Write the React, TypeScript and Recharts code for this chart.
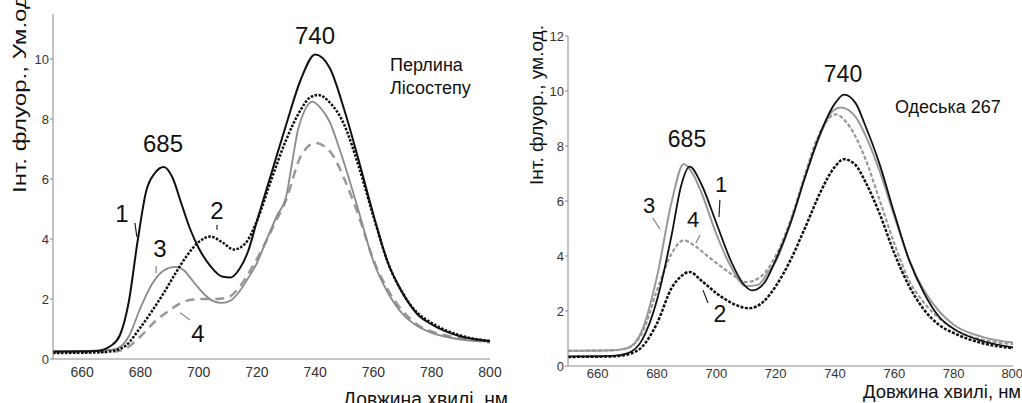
import React from 'react';
import { LineChart, Line, XAxis, YAxis, ReferenceLine } from 'recharts';

// wavelength (nm) / intensity pairs
const left1 = [[650, 0.25], [665, 0.27], [670, 0.45], [673, 0.8], [676, 1.9], [679, 3.9], [682, 5.6], [685, 6.2], [688, 6.4], [691, 6.05], [694, 5.2], [697, 4.35], [700, 3.7], [704, 3.1], [708, 2.75], [711, 2.72], [714, 3.0], [717, 3.6], [720, 4.6], [725, 6.2], [730, 7.8], [735, 9.3], [740, 10.15], [745, 9.7], [750, 8.3], [755, 6.6], [760, 4.8], [765, 3.2], [770, 2.2], [775, 1.5], [780, 1.15], [790, 0.75], [800, 0.6]];
const left2 = [[650, 0.2], [665, 0.22], [670, 0.26], [675, 0.45], [680, 1.05], [684, 1.6], [688, 2.2], [692, 2.85], [696, 3.45], [700, 3.9], [704, 4.08], [708, 3.9], [712, 3.65], [716, 3.85], [720, 4.6], [725, 6.0], [730, 7.3], [735, 8.3], [738, 8.7], [741, 8.8], [745, 8.55], [750, 7.8], [755, 6.4], [760, 4.75], [765, 3.2], [770, 2.2], [775, 1.55], [780, 1.2], [790, 0.78], [800, 0.6]];
const left3 = [[650, 0.25], [670, 0.3], [673, 0.4], [676, 0.75], [680, 1.7], [684, 2.5], [688, 2.95], [692, 3.07], [695, 2.95], [698, 2.6], [702, 2.15], [705, 1.93], [708, 1.87], [711, 1.95], [714, 2.25], [717, 2.7], [720, 3.2], [723, 3.9], [727, 4.8], [730, 5.4], [732, 6.5], [734, 7.6], [736, 8.2], [739, 8.58], [742, 8.35], [745, 7.9], [748, 7.1], [751, 6.2], [755, 4.9], [760, 3.25], [765, 2.2], [770, 1.5], [775, 1.1], [780, 0.87], [790, 0.65], [800, 0.58]];
const left4 = [[650, 0.22], [670, 0.24], [675, 0.35], [680, 0.75], [685, 1.25], [690, 1.62], [694, 1.87], [698, 1.98], [702, 2.0], [706, 2.0], [710, 2.05], [714, 2.4], [718, 3.0], [722, 3.7], [726, 4.5], [730, 5.3], [735, 6.75], [740, 7.2], [743, 7.1], [746, 6.8], [750, 6.0], [755, 4.75], [760, 3.3], [765, 2.3], [770, 1.6], [775, 1.15], [780, 0.92], [790, 0.7], [800, 0.55]];

const right1 = [[650, 0.35], [665, 0.37], [670, 0.46], [675, 0.95], [680, 2.4], [685, 4.8], [688, 6.5], [691, 7.25], [695, 6.6], [700, 5.2], [705, 3.8], [709, 3.0], [712, 2.75], [716, 3.0], [720, 3.85], [725, 5.2], [730, 6.9], [735, 8.45], [740, 9.55], [743, 9.87], [747, 9.55], [750, 8.8], [755, 7.35], [760, 5.55], [765, 3.85], [770, 2.65], [775, 1.8], [780, 1.35], [790, 0.9], [800, 0.68]];
const right2 = [[650, 0.33], [665, 0.35], [670, 0.42], [675, 0.7], [680, 1.55], [685, 2.85], [688, 3.25], [691, 3.42], [695, 3.1], [700, 2.65], [705, 2.3], [711, 2.1], [716, 2.35], [720, 2.9], [725, 3.85], [730, 5.05], [735, 6.3], [740, 7.25], [743, 7.52], [747, 7.3], [750, 6.75], [755, 5.55], [760, 4.1], [765, 2.9], [770, 2.05], [775, 1.5], [780, 1.2], [790, 0.82], [800, 0.65]];
const right3 = [[650, 0.55], [665, 0.57], [670, 0.65], [675, 1.3], [680, 3.25], [685, 6.0], [689, 7.35], [692, 7.0], [695, 6.3], [700, 4.8], [705, 3.6], [710, 2.9], [714, 2.95], [718, 3.5], [720, 3.8], [725, 5.2], [730, 6.9], [735, 8.4], [739, 9.25], [742, 9.4], [747, 9.05], [750, 8.45], [755, 7.1], [760, 5.45], [765, 3.85], [770, 2.75], [775, 2.0], [780, 1.5], [790, 1.05], [800, 0.85]];
const right4 = [[650, 0.55], [665, 0.57], [670, 0.65], [675, 1.2], [680, 2.75], [685, 4.1], [689, 4.57], [693, 4.35], [697, 4.0], [700, 3.75], [705, 3.35], [710, 3.05], [715, 3.25], [720, 4.0], [725, 5.3], [730, 7.0], [733, 8.0], [736, 8.7], [740, 9.15], [745, 8.7], [750, 7.6], [755, 6.05], [760, 4.45], [765, 3.1], [770, 2.3], [775, 1.75], [780, 1.35], [790, 0.95], [800, 0.8]];

const xTicks = [660, 680, 700, 720, 740, 760, 780, 800];
const leftYTicks = [0, 2, 4, 6, 8, 10];
const rightYTicks = [0, 2, 4, 6, 8, 10, 12];

// leader strokes next to curve numbers: [x1, y1, x2, y2, colour]
const leftLeaders: [number, number, number, number, string][] = [
  [678.1, 4.54, 678.8, 4.07, '#222'],
  [685.4, 3.1, 685.4, 2.87, '#888'],
  [706.3, 4.47, 706.3, 4.31, '#222'],
  [693.6, 1.54, 697.0, 1.3, '#888'],
];
const rightLeaders: [number, number, number, number, string][] = [
  [678.6, 5.38, 681.0, 4.98, '#888'],
  [701.2, 6.04, 700.9, 5.42, '#222'],
  [694.5, 4.76, 693.1, 4.47, '#888'],
  [695.5, 2.76, 697.2, 2.29, '#222'],
];

const pts = (arr: number[][]) => arr.map(([wl, v]) => ({ wl, v }));

const font = '"Liberation Sans", Arial, sans-serif';
const axisGrey = '#888';

const App = () => {
  const tick = (size: number) => ({ fontSize: size, fill: '#333', fontFamily: font });

  return (
    <div style={{ position: 'absolute', left: 0, top: 0, width: 1022, height: 403, background: '#fff', overflow: 'hidden' }}>
      {/* Left panel: Перлина Лісостепу */}
      <div style={{ position: 'absolute', left: 0, top: 0 }}>
        <LineChart width={510} height={403} margin={{ top: 14, right: 20, bottom: 14, left: 13 }}>
          <XAxis
            type="number"
            dataKey="wl"
            domain={[650, 800]}
            ticks={xTicks}
            tickLine={false}
            tickSize={6}
            axisLine={{ stroke: axisGrey }}
            tick={tick(14)}
            height={30}
            allowDataOverflow
          />
          <YAxis
            type="number"
            domain={[0, 11.5]}
            ticks={leftYTicks}
            tickSize={3}
            tickMargin={1}
            tickLine={{ stroke: axisGrey }}
            axisLine={{ stroke: axisGrey }}
            tick={tick(13)}
            width={40}
            allowDataOverflow
          />
          <Line data={pts(left4)} dataKey="v" type="monotone" stroke="#999" strokeWidth={2.5} strokeDasharray="9 6" dot={false} isAnimationActive={false} />
          <Line data={pts(left3)} dataKey="v" type="monotone" stroke="#8a8a8a" strokeWidth={1.8} dot={false} isAnimationActive={false} />
          <Line data={pts(left2)} dataKey="v" type="monotone" stroke="#111" strokeWidth={2.5} strokeDasharray="2.5 1.5" dot={false} isAnimationActive={false} />
          <Line data={pts(left1)} dataKey="v" type="monotone" stroke="#111" strokeWidth={2} dot={false} isAnimationActive={false} />
          {leftLeaders.map(([x1, y1, x2, y2, c], i) => (
            <ReferenceLine key={i} segment={[{ x: x1, y: y1 }, { x: x2, y: y2 }]} stroke={c} strokeWidth={1.2} ifOverflow="visible" />
          ))}
        </LineChart>
      </div>

      {/* Right panel: Одеська 267 */}
      <div style={{ position: 'absolute', left: 510, top: 0 }}>
        <LineChart width={512} height={403} margin={{ top: 36, right: 9, bottom: 12, left: 18 }}>
          <XAxis
            type="number"
            dataKey="wl"
            domain={[650, 800]}
            ticks={xTicks}
            tickLine={false}
            tickSize={2}
            tickMargin={1}
            axisLine={{ stroke: axisGrey }}
            tick={tick(13)}
            height={25}
            allowDataOverflow
          />
          <YAxis
            type="number"
            domain={[0, 12]}
            ticks={rightYTicks}
            tickSize={3}
            tickMargin={1}
            tickLine={{ stroke: axisGrey }}
            axisLine={{ stroke: axisGrey }}
            tick={tick(13)}
            width={40}
            allowDataOverflow
          />
          <Line data={pts(right4)} dataKey="v" type="monotone" stroke="#999" strokeWidth={2.2} strokeDasharray="4 2" dot={false} isAnimationActive={false} />
          <Line data={pts(right3)} dataKey="v" type="monotone" stroke="#999" strokeWidth={2} dot={false} isAnimationActive={false} />
          <Line data={pts(right2)} dataKey="v" type="monotone" stroke="#111" strokeWidth={2.5} strokeDasharray="3 1.5" dot={false} isAnimationActive={false} />
          <Line data={pts(right1)} dataKey="v" type="monotone" stroke="#111" strokeWidth={1.8} dot={false} isAnimationActive={false} />
          {rightLeaders.map(([x1, y1, x2, y2, c], i) => (
            <ReferenceLine key={i} segment={[{ x: x1, y: y1 }, { x: x2, y: y2 }]} stroke={c} strokeWidth={1.2} ifOverflow="visible" />
          ))}
        </LineChart>
      </div>

      {/* text labels */}
      <svg width={1022} height={403} style={{ position: 'absolute', left: 0, top: 0, pointerEvents: 'none' }} fontFamily={font} fill="#111">
        {/* left */}
        <text x={26} y={193} fontSize={19} transform="rotate(-90 26 193)" textLength={198} lengthAdjust="spacingAndGlyphs">Інт. флуор., Ум.од</text>
        <text x={343} y={406} fontSize={20} textLength={165} lengthAdjust="spacingAndGlyphs">Довжина хвилі, нм</text>
        <text x={315} y={44} fontSize={24} textAnchor="middle">740</text>
        <text x={163} y={152} fontSize={24} textAnchor="middle">685</text>
        <text x={390} y={71} fontSize={18}>Перлина</text>
        <text x={390} y={94} fontSize={18}>Лісостепу</text>
        <text x={122} y={222} fontSize={24} textAnchor="middle">1</text>
        <text x={160} y={257} fontSize={24} textAnchor="middle">3</text>
        <text x={217} y={219} fontSize={24} textAnchor="middle">2</text>
        <text x={198} y={342} fontSize={24} textAnchor="middle">4</text>
        {/* right */}
        <text x={543} y={185} fontSize={19} transform="rotate(-90 543 185)" textLength={160} lengthAdjust="spacingAndGlyphs">Інт. флуор., ум.од.</text>
        <text x={863} y={398} fontSize={19} textLength={158} lengthAdjust="spacingAndGlyphs">Довжина хвилі, нм</text>
        <text x={843} y={82} fontSize={23} textAnchor="middle">740</text>
        <text x={687} y={147} fontSize={23} textAnchor="middle">685</text>
        <text x={895} y={113} fontSize={18}>Одеська 267</text>
        <text x={721} y={192} fontSize={22} textAnchor="middle">1</text>
        <text x={649} y={213} fontSize={22} textAnchor="middle">3</text>
        <text x={693} y={227} fontSize={22} textAnchor="middle">4</text>
        <text x={720} y={322} fontSize={23} textAnchor="middle">2</text>
      </svg>
    </div>
  );
};

export default App;
